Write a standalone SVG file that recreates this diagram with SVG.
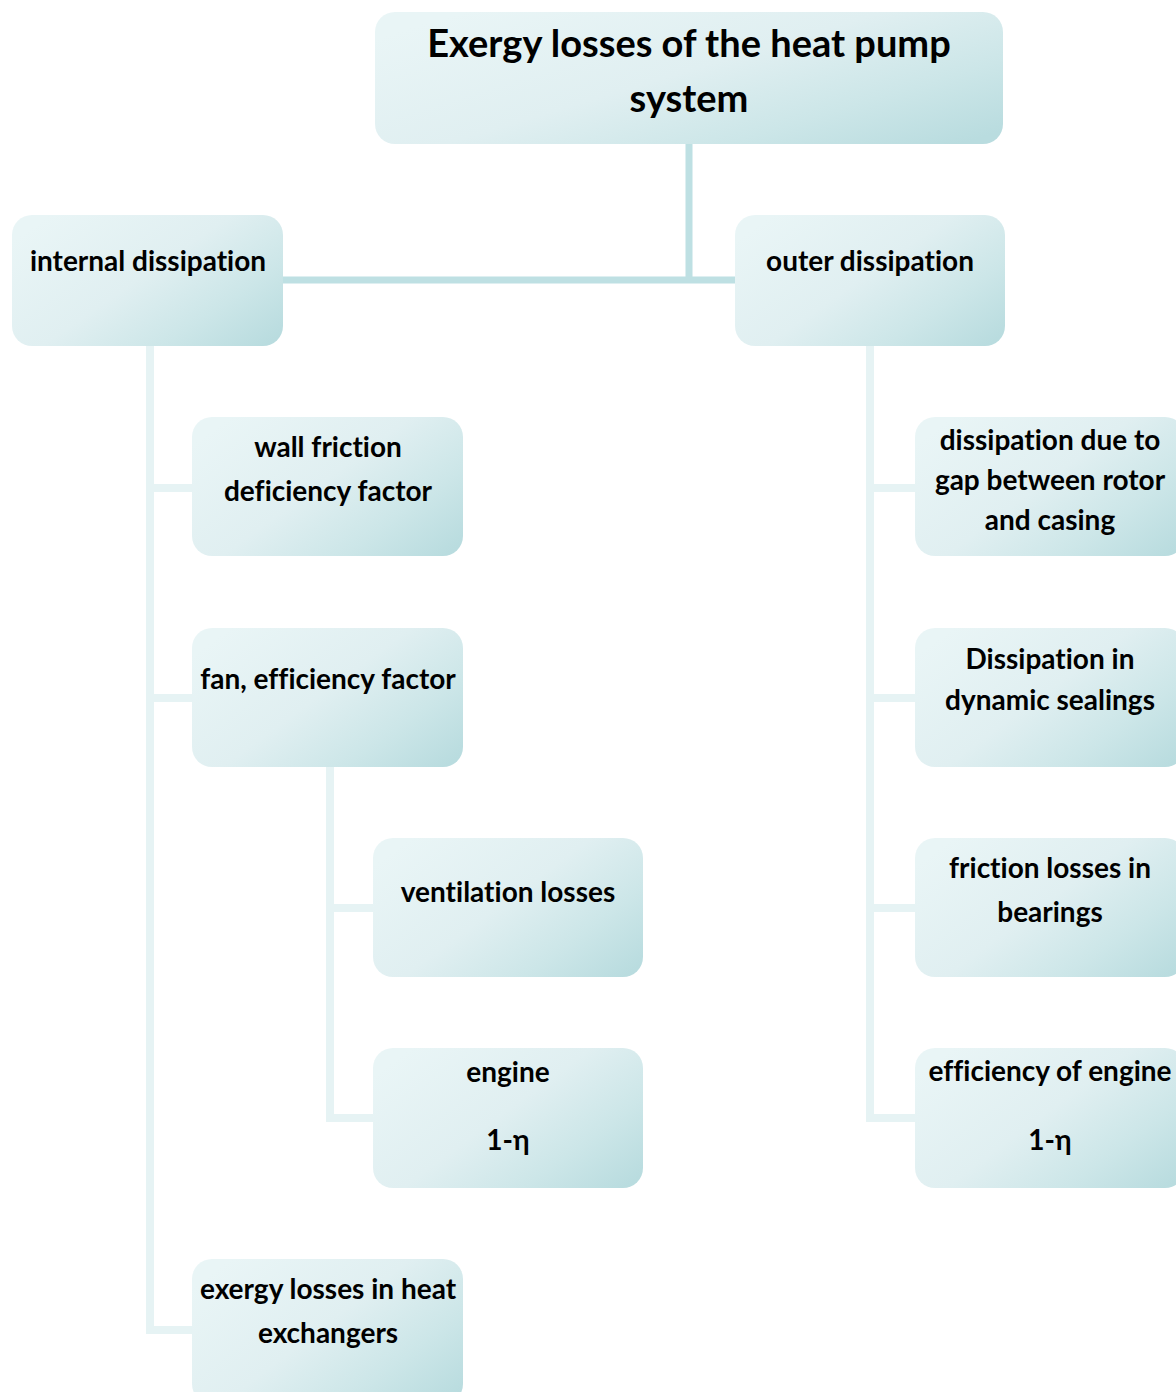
<svg xmlns="http://www.w3.org/2000/svg" width="1176" height="1392" viewBox="0 0 1176 1392">
<defs>
<linearGradient id="g" x1="0" y1="0.2" x2="1" y2="0.9">
<stop offset="0" stop-color="#E9F5F6"/>
<stop offset="0.45" stop-color="#E0EFF1"/>
<stop offset="0.75" stop-color="#CCE6E8"/>
<stop offset="1" stop-color="#B9DCDF"/>
</linearGradient>
<style>
.box{fill:url(#g);}
text{font-family:Lato,"Liberation Sans",sans-serif;font-weight:bold;fill:#000;text-anchor:middle;font-variant-ligatures:none;}
.t{font-size:28px;}
.r{font-size:38px;}
.c1{stroke:#BEE0E3;stroke-width:7;fill:none;}
.c2{stroke:#E6F3F4;stroke-width:8;fill:none;}
</style>
</defs>
<g id="connectors">
<path class="c1" d="M689 144 V280 M282 280 H736"/>
<path class="c2" d="M150 346 V1330 H192 M150 488 H192 M150 698 H192"/>
<path class="c2" d="M330 767 V1118 H373 M330 908 H373"/>
<path class="c2" d="M870 346 V1118 H915 M870 488 H915 M870 698 H915 M870 908 H915"/>
</g>
<g id="root"><rect class="box" x="375" y="12" width="628" height="132" rx="20"/>
<text class="r" x="689" y="57">Exergy losses of the heat pump</text>
<text class="r" x="689" y="112">system</text></g>
<g id="internal"><rect class="box" x="12" y="215" width="271" height="131" rx="20"/>
<text class="t" x="148" y="271">internal dissipation</text></g>
<g id="outer"><rect class="box" x="735" y="215" width="270" height="131" rx="20"/>
<text class="t" x="870" y="271">outer dissipation</text></g>
<g id="wall"><rect class="box" x="192" y="417" width="271" height="139" rx="20"/>
<text class="t" x="328" y="457">wall friction</text>
<text class="t" x="328" y="501">deficiency factor</text></g>
<g id="fan"><rect class="box" x="192" y="628" width="271" height="139" rx="20"/>
<text class="t" x="328" y="689">fan, efficiency factor</text></g>
<g id="ventilation"><rect class="box" x="373" y="838" width="270" height="139" rx="20"/>
<text class="t" x="508" y="902">ventilation losses</text></g>
<g id="engine"><rect class="box" x="373" y="1048" width="270" height="140" rx="20"/>
<text class="t" x="508" y="1082">engine</text>
<text class="t" x="508" y="1150">1-η</text></g>
<g id="exchangers"><rect class="box" x="192" y="1259" width="271" height="145" rx="20"/>
<text class="t" x="328" y="1299">exergy losses in heat</text>
<text class="t" x="328" y="1343">exchangers</text></g>
<g id="gap"><rect class="box" x="915" y="417" width="270" height="139" rx="20"/>
<text class="t" x="1050" y="450">dissipation due to</text>
<text class="t" x="1050" y="490">gap between rotor</text>
<text class="t" x="1050" y="530">and casing</text></g>
<g id="sealings"><rect class="box" x="915" y="628" width="270" height="139" rx="20"/>
<text class="t" x="1050" y="669">Dissipation in</text>
<text class="t" x="1050" y="710">dynamic sealings</text></g>
<g id="bearings"><rect class="box" x="915" y="838" width="270" height="139" rx="20"/>
<text class="t" x="1050" y="878">friction losses in</text>
<text class="t" x="1050" y="922">bearings</text></g>
<g id="efficiency"><rect class="box" x="915" y="1048" width="270" height="140" rx="20"/>
<text class="t" x="1050" y="1081">efficiency of engine</text>
<text class="t" x="1050" y="1150">1-η</text></g>
</svg>
